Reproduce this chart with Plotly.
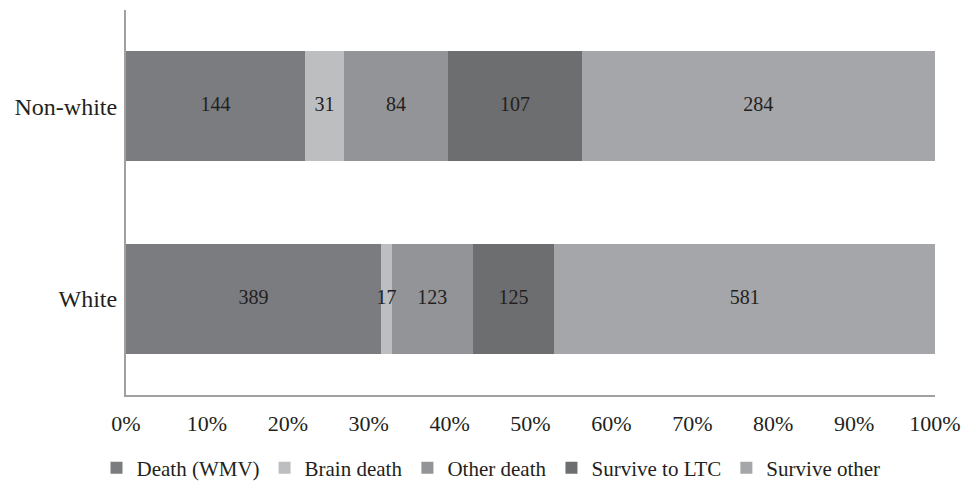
import plotly.graph_objects as go

categories = ["White", "Non-white"]
series_names = ["Death (WMV)", "Brain death", "Other death", "Survive to LTC", "Survive other"]
death_wmv = [389, 144]
brain_death = [17, 31]
other_death = [123, 84]
survive_ltc = [125, 107]
survive_other = [581, 284]
series_values = [death_wmv, brain_death, other_death, survive_ltc, survive_other]
colors = ["#7b7c80", "#bdbec0", "#939497", "#6d6e70", "#a5a6a9"]
x_tick_vals = [0, 10, 20, 30, 40, 50, 60, 70, 80, 90, 100]
x_tick_text = [f"{v}%" for v in x_tick_vals]

FONT = "Liberation Serif, Times New Roman, serif"

fig = go.Figure()
for name, vals, col in zip(series_names, series_values, colors):
    fig.add_trace(go.Bar(
        y=categories, x=vals, name=name, orientation="h",
        marker=dict(color=col, line=dict(width=0)),
        hoverinfo="skip",
    ))

# value labels drawn on top of all bars (centre of each segment, in percent units)
totals = [sum(s[i] for s in series_values) for i in range(len(categories))]
lab_x, lab_y, lab_t = [], [], []
for i, cat in enumerate(categories):
    cum = 0.0
    for s in series_values:
        share = s[i] / totals[i] * 100
        lab_x.append(cum + share / 2)
        lab_y.append(cat)
        lab_t.append(str(s[i]))
        cum += share
fig.add_trace(go.Scatter(
    x=lab_x, y=lab_y, text=lab_t, mode="text", showlegend=False, hoverinfo="skip",
    textposition="middle center", textfont=dict(family=FONT, size=20, color="#231f20"),
))

W, H = 966, 477
fig.update_layout(
    barmode="stack", barnorm="percent", bargap=0.43,
    width=W, height=H,
    margin=dict(l=118, r=39, t=2, b=90, autoexpand=False),
    paper_bgcolor="white", plot_bgcolor="white",
    font=dict(family=FONT, color="#231f20"),
    showlegend=True,
    legend=dict(orientation="h", x=0.5, xanchor="center", xref="container",
                y=1 - 460 / H, yanchor="middle", yref="container",
                font=dict(family=FONT, size=21, color="#231f20"),
                itemwidth=30, traceorder="normal", itemclick=False,
                tracegroupgap=0, bgcolor="rgba(0,0,0,0)"),
)
fig.update_xaxes(range=[0, 100], tickvals=x_tick_vals, ticktext=x_tick_text, automargin=False,
                 showgrid=False, zeroline=False, showline=True, linecolor="#a0a0a2", linewidth=2,
                 ticks="", ticklabelstandoff=8, tickfont=dict(family=FONT, size=22, color="#231f20"))
fig.update_yaxes(showgrid=False, zeroline=False, showline=True, linecolor="#a0a0a2", linewidth=2,
                 ticks="", ticklabelstandoff=2, range=[-0.5, 1.5], automargin=False,
                 tickfont=dict(family=FONT, size=24, color="#231f20"))

fig.write_html("out.html")
